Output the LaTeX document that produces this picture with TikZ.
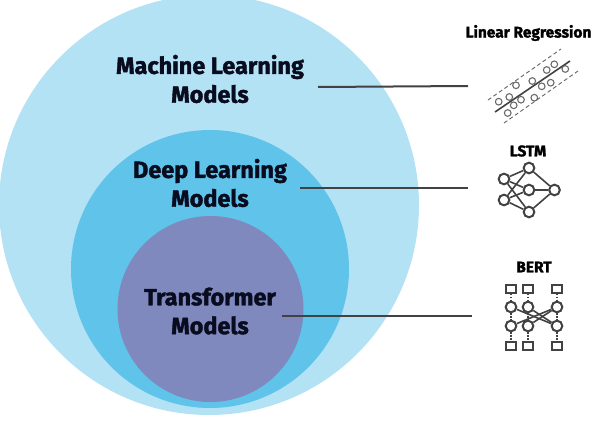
\documentclass[tikz,border=0pt]{standalone}
\usepackage{fontspec}
\setmainfont{Fira Sans}[BoldFeatures={FakeBold=1.6}]
\definecolor{outerblue}{RGB}{179,226,245}
\definecolor{midblue}{RGB}{95,195,234}
\definecolor{innerviolet}{RGB}{127,137,189}
\definecolor{inkgrey}{RGB}{66,66,66}
\definecolor{textink}{RGB}{8,12,30}
\tikzset{
  every picture/.style={line width=0.75pt},
  biglabel/.style={font=\bfseries\fontsize{17.6}{21.6}\selectfont,text=textink,align=center,inner sep=0.75pt},
  iconlabel/.style={font=\bfseries\fontsize{11.6}{13}\selectfont,text=black,inner sep=0.75pt},
  leader/.style={draw=inkgrey,line width=1.5pt},
  iconline/.style={draw=inkgrey,line width=1.2pt},
  iconthin/.style={draw=inkgrey!80,line width=0.7pt},
  netdot/.style={circle,draw=inkgrey,line width=1.5pt,fill=white,inner sep=0pt,minimum size=8pt},
  berttile/.style={rectangle,draw=inkgrey,line width=1.3pt,fill=white,inner sep=0pt,minimum width=7.5pt,minimum height=6pt},
  scatterdot/.style={circle,draw=inkgrey!80,line width=0.8pt,inner sep=0pt,minimum size=5pt}
}
\begin{document}
\begin{tikzpicture}[x=0.75pt,y=0.75pt,yscale=-1,xscale=1]
  \useasboundingbox (0,0) rectangle (601,425);

  %Nested circles
  \fill [outerblue] (209,205) circle [radius=210];
  \fill [midblue] (210,269) circle [radius=139];
  \fill [innerviolet] (210.5,309) circle [radius=93];

  %Circle labels
  \node [biglabel] (mlmodels) at (210,79) {Machine Learning\\Models};
  \node [biglabel] (dlmodels) at (210,183) {Deep Learning\\Models};
  \node [biglabel] (trmodels) at (210,311) {Transformer\\Models};

  %Leader lines
  \coordinate (mlstart) at (318,87);
  \coordinate (mlend) at (468,86);
  \coordinate (dlstart) at (300,188);
  \coordinate (dlend) at (468,188);
  \coordinate (trstart) at (282,316);
  \coordinate (trend) at (472,316);
  \draw [leader] (mlstart) -- (mlend);
  \draw [leader] (dlstart) -- (dlend);
  \draw [leader] (trstart) -- (trend);

  %Icon labels
  \node [iconlabel] (linreg) at (528.5,33) {Linear Regression};
  \node [iconlabel] (lstm) at (528,151) {LSTM};
  \node [iconlabel] (bert) at (534,267) {BERT};

  %Regression icon
  \coordinate (fitA) at (495,112);
  \coordinate (fitB) at (570,61);
  \coordinate (upA) at (488,100);
  \coordinate (upB) at (561,49);
  \coordinate (lowA) at (504,123);
  \coordinate (lowB) at (578,71);
  \draw [iconline] (fitA) -- (fitB);
  \draw [iconthin,densely dashed] (upA) -- (upB);
  \draw [iconthin,densely dashed] (lowA) -- (lowB);
  \foreach \px/\py [count=\i] in {516/85.3,532.3/81,546.7/70,554.3/64.3,565.3/69,550.7/82.7,541.7/86.3,509.3/97,498.7/101.7,513.7/105.3,521/99.7,534.3/97.7,507.7/113}
    \node [scatterdot] (pt\i) at (\px,\py) {};

  %LSTM icon
  \node [netdot] (inA) at (504,179) {};
  \node [netdot] (inB) at (504,200) {};
  \node [netdot] (hidA) at (529,168) {};
  \node [netdot] (hidB) at (529,190) {};
  \node [netdot] (hidC) at (529,212) {};
  \node [netdot] (outA) at (554.5,190) {};
  \foreach \a in {inA,inB}
    \foreach \b in {hidA,hidB,hidC}
      \draw [iconline] (\a) -- (\b);
  \foreach \b in {hidA,hidB,hidC}
    \draw [iconline] (\b) -- (outA);

  %BERT icon
  \foreach \nm/\px in {a/511,b/528,c/557} {
    \node [berttile] (top\nm) at (\px,289) {};
    \node [netdot] (upper\nm) at (\px,307) {};
    \node [netdot] (lower\nm) at (\px,326) {};
    \node [berttile] (base\nm) at (\px,346) {};
    \draw [iconline,densely dotted] (top\nm) -- (upper\nm);
    \draw [iconline,densely dotted] (upper\nm) -- (lower\nm);
    \draw [iconline,densely dotted] (lower\nm) -- (base\nm);
  }
  \draw [iconline] (uppera) -- (lowerc);
  \draw [iconline] (upperb) -- (lowerc);
  \draw [iconline] (upperc) -- (lowera);
  \draw [iconline] (upperc) -- (lowerb);
\end{tikzpicture}
\end{document}
